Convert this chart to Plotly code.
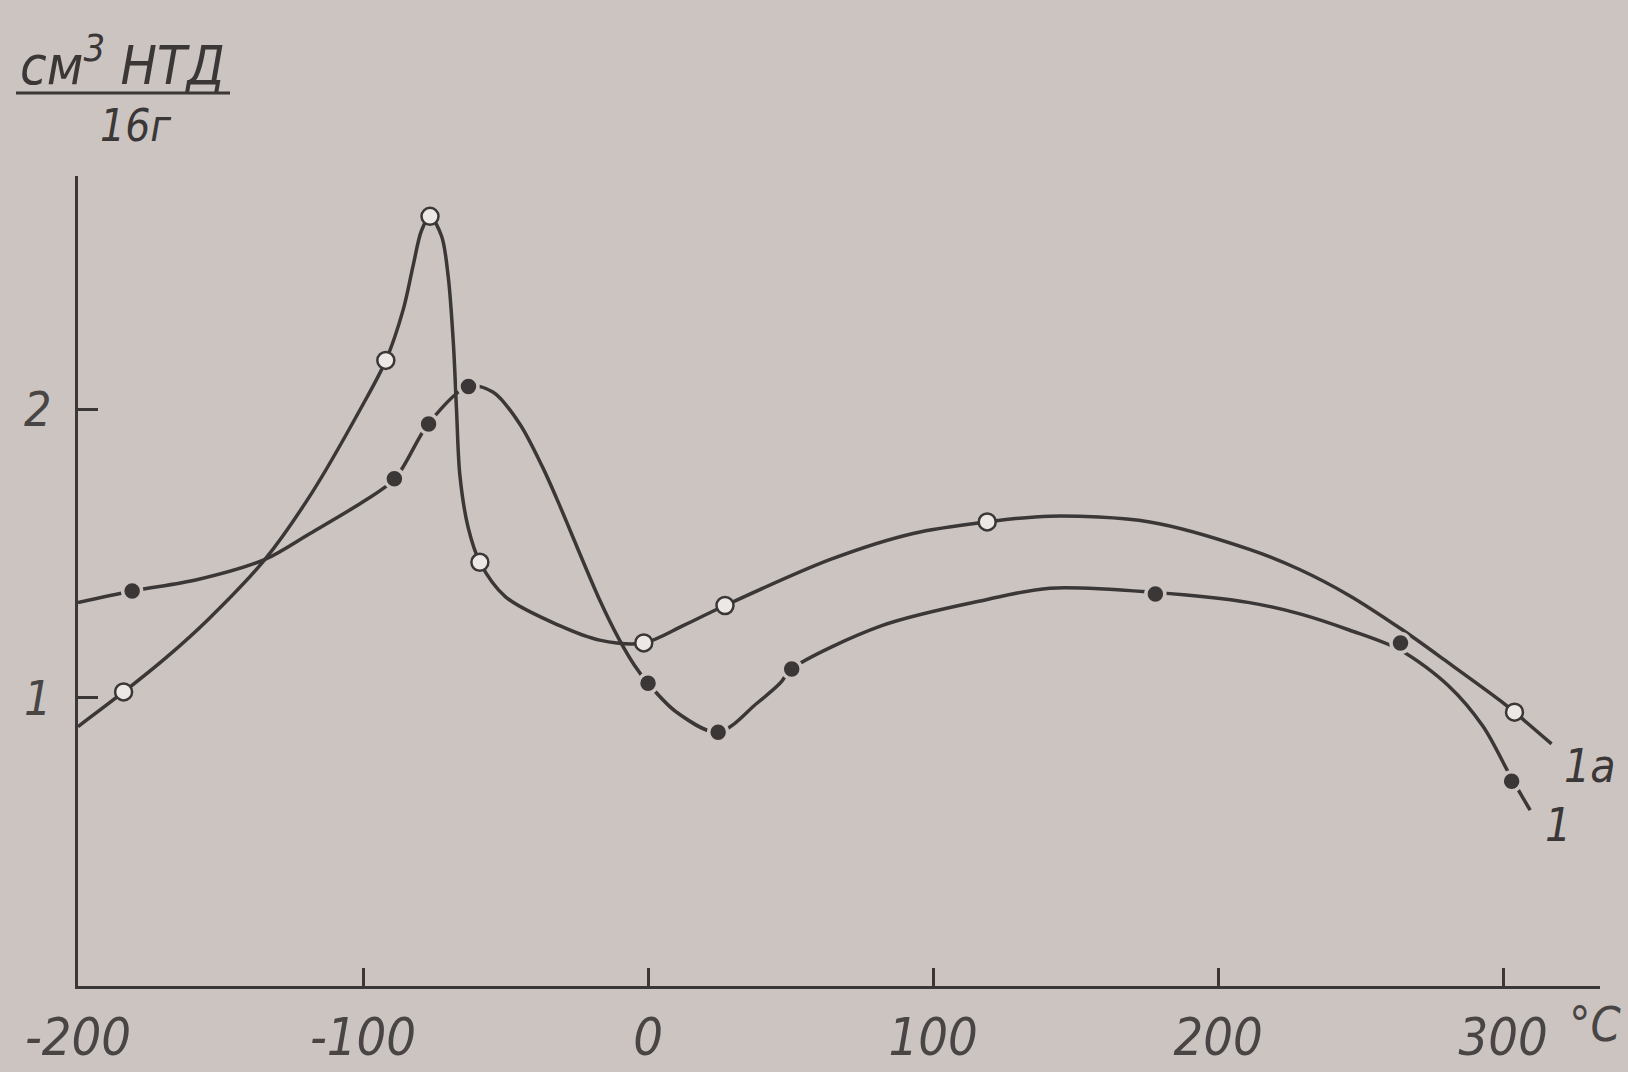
import plotly.graph_objects as go

# ---- data ----
# curve 1a (open circles)
pts_1a_x = [-184, -92, -76.5, -59, -1.5, 27, 119, 304]
pts_1a_y = [1.02, 2.17, 2.67, 1.47, 1.19, 1.32, 1.61, 0.95]
curve_1a_x = [-200, -184, -169, -154.5, -134.4, -118, -101, -92, -85.8, -82.4, -79.5, -76.5,
              -72.4, -70.1, -68.3, -67.2, -66.0, -63.1, -59, -50, -31, -17, -1.5, 12.3, 27,
              64, 93, 119, 141, 176, 211, 228.6, 246, 264, 281, 299, 304, 317]
curve_1a_y = [0.90, 1.02, 1.14, 1.27, 1.48, 1.71, 2.00, 2.17, 2.35, 2.50, 2.62, 2.67,
              2.60, 2.46, 2.23, 2.00, 1.77, 1.59, 1.47, 1.35, 1.25, 1.20, 1.19, 1.25, 1.32,
              1.48, 1.57, 1.61, 1.63, 1.61, 1.515, 1.445, 1.355, 1.24, 1.12, 0.99, 0.95, 0.84]

# curve 1 (filled dots)
pts_1_x = [-181, -89, -77, -63, 0, 24.6, 50.4, 178, 264, 303]
pts_1_y = [1.37, 1.76, 1.95, 2.08, 1.05, 0.88, 1.10, 1.36, 1.19, 0.71]
curve_1_x = [-200, -181, -158, -134.4, -118.6, -100, -88.8, -77.1, -63.1, -54.3, -45, -37,
             -32, -17, -10, -4.6, 0, 10, 24.6, 38.1, 46.3, 50.4, 82, 118.6, 141, 178, 211,
             229, 246, 264, 281, 293, 303, 309.5]
curve_1_y = [1.33, 1.37, 1.41, 1.48, 1.57, 1.68, 1.76, 1.95, 2.08, 2.06, 1.95, 1.80,
             1.69, 1.34, 1.20, 1.11, 1.05, 0.95, 0.88, 0.98, 1.05, 1.10, 1.25, 1.34, 1.38, 1.365, 1.33,
             1.29, 1.235, 1.165, 1.04, 0.90, 0.72, 0.61]

x_ticks = [-200, -100, 0, 100, 200, 300]
x_tick_text = ["-200", "-100", "0", "100", "200", "300"]
y_ticks = [1, 2]
y_tick_text = ["1", "2"]

label_1a = "1а"
label_1 = "1"
y_title_top = "см<sup>3</sup> НТД"
y_title_bottom = "16г"
x_unit = "°C"

# ---- style ----
BG = "#cbc4c1"
INK = "#3b3737"
SOFT = "#4a4545"
FONT = "Liberation Sans Narrow, DejaVu Sans Condensed, Liberation Sans, sans-serif"

fig = go.Figure()

line_style = dict(color=INK, width=3.5, shape="spline", smoothing=0.9)
fig.add_trace(go.Scatter(x=curve_1a_x, y=curve_1a_y, mode="lines", line=line_style,
                         hoverinfo="skip", showlegend=False))
fig.add_trace(go.Scatter(x=curve_1_x, y=curve_1_y, mode="lines", line=line_style,
                         hoverinfo="skip", showlegend=False))
fig.add_trace(go.Scatter(x=pts_1a_x, y=pts_1a_y, mode="markers",
                         marker=dict(size=17, color="#ece8e6", line=dict(color=INK, width=2.5)),
                         showlegend=False, name="1a"))
fig.add_trace(go.Scatter(x=pts_1_x, y=pts_1_y, mode="markers",
                         marker=dict(size=19, color=INK, line=dict(color=BG, width=3.5)),
                         showlegend=False, name="1"))

L, R, T, B = 78, 28, 176, 86
W, H = 1628, 1072
pw, ph = W - L - R, H - T - B


def px(xpix):
    return (xpix - L) / pw


def py(ypix):
    return (H - B - ypix) / ph


fig.update_layout(
    width=W, height=H,
    margin=dict(l=L, r=R, t=T, b=B, autoexpand=False),
    paper_bgcolor=BG, plot_bgcolor=BG,
    font=dict(family=FONT, color=INK, style="italic"),
    showlegend=False,
)

fig.update_xaxes(range=[-200, 334], tickvals=x_ticks, ticktext=x_tick_text,
                 showline=True, linecolor=INK, linewidth=3, showgrid=False, zeroline=False,
                 ticks="inside", ticklen=18, tickwidth=2.5, tickcolor=INK,
                 tickfont=dict(family=FONT, size=52, color=SOFT, style="italic"),
                 ticklabelstandoff=4)
fig.update_yaxes(range=[0, 2.81], tickvals=y_ticks, ticktext=y_tick_text,
                 showline=True, linecolor=INK, linewidth=3, showgrid=False, zeroline=False,
                 ticks="inside", ticklen=20, tickwidth=2.5, tickcolor=INK,
                 tickfont=dict(family=FONT, size=48, color=SOFT, style="italic"),
                 ticklabelstandoff=14)


def note(text, xpix, ypix, size, color=INK):
    fig.add_annotation(text=text, x=px(xpix), y=py(ypix), xref="paper", yref="paper",
                       xanchor="center", yanchor="middle", showarrow=False,
                       font=dict(family=FONT, color=color, style="italic", size=size))


note(y_title_top, 122, 62, 54)
note(y_title_bottom, 135, 126, 44)
fig.add_shape(type="line", xref="paper", yref="paper", x0=px(16), x1=px(230), y0=py(93), y1=py(93),
              line=dict(color=INK, width=3))
note(label_1a, 1590, 766, 46)
note(label_1, 1558, 825, 46)
note(x_unit, 1595, 1024, 48, SOFT)

fig.write_html("out.html", config={"displayModeBar": False},
               post_script="document.body.style.margin='0';document.body.style.background='%s';"
                           "document.body.style.overflow='hidden';" % BG)
